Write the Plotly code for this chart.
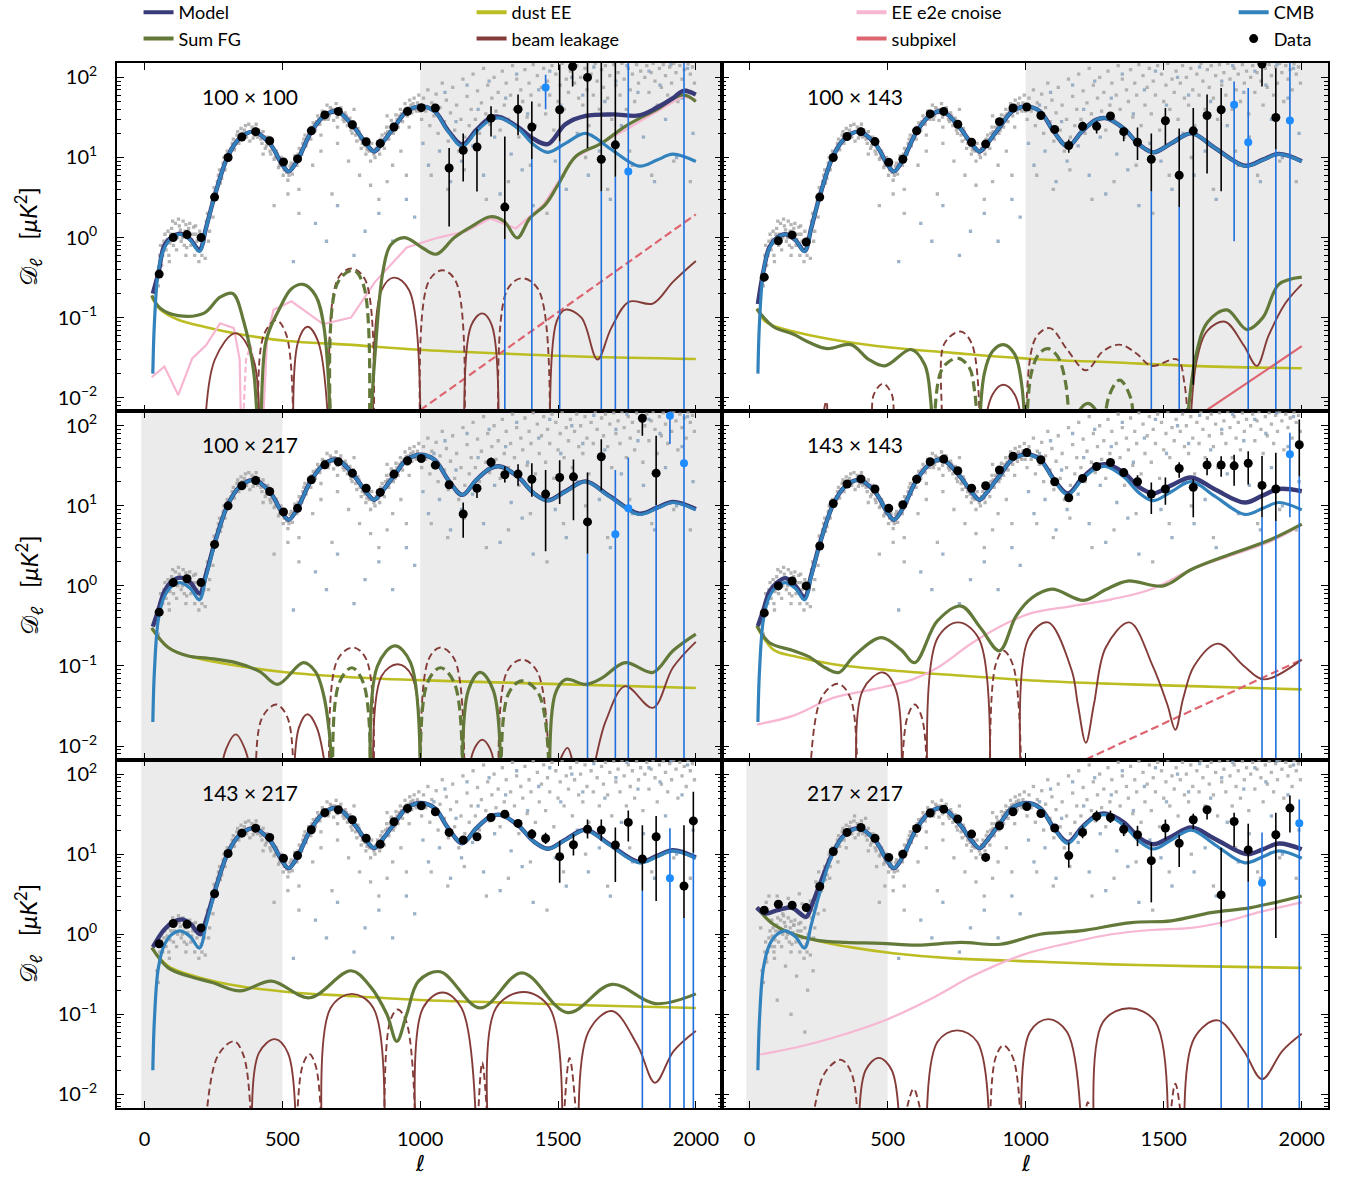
import plotly.graph_objects as go

# ---------------- data ----------------
LABELS = ["100 \u00d7 100", "100 \u00d7 143", "100 \u00d7 217",
          "143 \u00d7 143", "143 \u00d7 217", "217 \u00d7 217"]

# CMB EE theory (same in all panels): (ell, D_ell)
CMB = [(30, 0.02), (36, 0.09), (50, 0.38), (72, 0.74), (100, 1.0), (130, 1.1), (166, 0.93),
       (199, 0.67), (223, 1.3), (252, 3.1), (302, 10.3), (346, 17.5), (396, 21), (454, 15),
       (500, 8.1), (523, 6.7), (555, 9.3), (605, 21), (656, 34), (699, 37.6), (757, 24.5),
       (807, 14.4), (833, 11.9), (857, 14.4), (908, 24.5), (951, 37.6), (1001, 43.5),
       (1052, 37.6), (1102, 21), (1153, 13.7), (1203, 21), (1255, 29.5), (1290, 31), (1355, 23),
       (1412, 14.4), (1463, 11.6), (1527, 15), (1600, 20), (1686, 13.1), (1794, 7.8),
       (1859, 9.3), (1917, 11), (2000, 8.9)]

MODEL_1 = [(30, 0.2), (50, 0.36), (72, 0.8), (100, 1.02), (130, 1.12), (166, 0.95), (199, 0.7),
           (223, 1.32), (252, 3.1), (302, 10.3), (346, 17.5), (396, 21), (454, 15), (500, 8.1),
           (523, 6.7), (555, 9.3), (605, 21), (656, 34), (699, 37.6), (757, 24.5), (807, 14.4),
           (833, 11.9), (857, 14.4), (908, 24.5), (951, 37.6), (1001, 43.5), (1052, 38),
           (1102, 21.5), (1153, 14.5), (1203, 22), (1255, 31.6), (1290, 32), (1355, 24),
           (1412, 17), (1463, 14.7), (1527, 26), (1600, 33), (1700, 34.5), (1794, 33.5),
           (1859, 42), (1917, 55), (1955, 68), (2000, 61)]
MODEL_2 = [(30, 0.148), (50, 0.38), (72, 0.76), (100, 1.0), (130, 1.1), (166, 0.93), (199, 0.68),
           (223, 1.3), (252, 3.1), (302, 10.3), (346, 17.5), (396, 21), (454, 15), (500, 8.1),
           (523, 6.7), (555, 9.3), (605, 21), (656, 34), (699, 37.6), (757, 24.5), (807, 14.4),
           (833, 11.9), (857, 14.4), (908, 24.5), (951, 37.6), (1001, 43.5), (1052, 37.6),
           (1102, 21), (1153, 13.7), (1203, 21), (1255, 29.5), (1290, 31), (1355, 23),
           (1412, 14.4), (1463, 11.6), (1527, 15), (1600, 20), (1686, 13.1), (1794, 7.9),
           (1859, 9.4), (1917, 11.1), (2000, 9.0)]
MODEL_3 = [(30, 0.31), (50, 0.5), (72, 0.85), (100, 1.15), (130, 1.27), (166, 1.1), (199, 0.8),
           (223, 1.4), (252, 3.2), (302, 10.3), (346, 17.5), (396, 21), (454, 15), (500, 8.1),
           (523, 6.7), (555, 9.3), (605, 21), (656, 34), (699, 37.6), (757, 24.5), (807, 14.4),
           (833, 11.9), (857, 14.4), (908, 24.5), (951, 37.6), (1001, 43.5), (1052, 37.6),
           (1102, 21), (1153, 13.7), (1203, 21), (1255, 29.5), (1290, 31), (1355, 23),
           (1412, 14.4), (1463, 11.7), (1527, 15.2), (1600, 20.2), (1686, 13.3), (1794, 8.0),
           (1859, 9.5), (1917, 11.2), (2000, 9.1)]
MODEL_4 = [(30, 0.316), (50, 0.5), (72, 0.85), (100, 1.1), (130, 1.25), (166, 1.0), (199, 0.72),
           (223, 1.35), (252, 3.15), (302, 10.3), (346, 17.5), (396, 21), (454, 15), (500, 8.1),
           (523, 6.7), (555, 9.3), (605, 21), (656, 34), (699, 37.6), (757, 24.5), (807, 14.4),
           (833, 11.9), (857, 14.4), (908, 24.5), (951, 37.6), (1001, 44), (1052, 38),
           (1102, 21.5), (1153, 14.3), (1203, 22), (1255, 31), (1290, 33), (1355, 26),
           (1412, 17), (1463, 14.3), (1527, 18), (1600, 22.6), (1686, 16), (1794, 11),
           (1859, 13.5), (1917, 16.2), (2000, 15.2)]
MODEL_5 = [(30, 0.69), (50, 0.9), (72, 1.15), (101, 1.4), (137, 1.53), (166, 1.35), (202, 1.0),
           (223, 1.5), (252, 3.2), (302, 10.3), (346, 17.5), (396, 21), (454, 15), (500, 8.1),
           (523, 6.7), (555, 9.3), (605, 21), (656, 34), (699, 37.6), (757, 24.5), (807, 14.4),
           (833, 11.9), (857, 14.4), (908, 24.5), (951, 37.6), (1001, 43.5), (1052, 37.6),
           (1102, 21), (1153, 13.7), (1203, 21), (1255, 29.5), (1290, 31), (1355, 23),
           (1412, 14.4), (1463, 11.7), (1527, 15.2), (1600, 20.2), (1686, 13.3), (1794, 8.0),
           (1859, 9.5), (1917, 11.2), (2000, 9.1)]
MODEL_6 = [(26, 2.15), (58, 1.81), (101, 2.0), (151, 2.15), (205, 1.65), (223, 2.2), (252, 4.0),
           (302, 10.5), (346, 17.8), (396, 21), (454, 15), (500, 8.1), (523, 6.7), (555, 9.3),
           (605, 21), (656, 34), (699, 37.6), (757, 24.5), (807, 14.4), (833, 11.9), (857, 14.4),
           (908, 24.5), (951, 37.6), (1001, 43.5), (1052, 37.8), (1102, 21.3), (1153, 14.2),
           (1203, 21.5), (1255, 30.5), (1290, 32), (1355, 25), (1412, 16), (1463, 13.3),
           (1527, 16.5), (1600, 21.5), (1686, 15.5), (1801, 10), (1859, 11.5), (1917, 13.6),
           (2000, 11.5)]

# Sum of foregrounds, signed (negative -> dashed); 0 marks a sign change
SUMFG_1 = [(26, 0.19), (58, 0.13), (122, 0.106), (216, 0.114), (274, 0.18), (320, 0.2),
           (360, 0.089), (396, 0.021), (418, 0), (440, 0.05), (490, 0.13), (533, 0.23),
           (576, 0.26), (620, 0.19), (650, 0.08), (678, 0), (700, -0.27), (757, -0.39),
           (795, -0.25), (814, 0), (836, 0.034), (865, 0.38), (893, 0.81), (944, 1.0),
           (1009, 0.74), (1059, 0.62), (1124, 1.0), (1190, 1.4), (1254, 1.82), (1304, 1.6),
           (1352, 0.99), (1398, 1.75), (1455, 2.6), (1499, 4.5), (1564, 10.3), (1657, 15),
           (1744, 24.5), (1859, 40), (1953, 60.6), (2000, 50)]
SUMFG_2 = [(26, 0.128), (86, 0.077), (159, 0.062), (216, 0.049), (281, 0.041), (367, 0.046),
           (432, 0.03), (490, 0.025), (584, 0.04), (634, 0.026), (655, 0.01), (665, 0),
           (690, -0.02), (720, -0.028), (757, -0.031), (795, -0.024), (815, -0.012), (830, 0),
           (850, 0.02), (880, 0.038), (919, 0.046), (960, 0.035), (985, 0.015), (1001, 0),
           (1020, -0.02), (1050, -0.036), (1081, -0.041), (1115, -0.033), (1145, -0.015),
           (1160, 0), (1185, 0.006), (1225, 0.0085), (1265, 0.006), (1283, 0),
           (1300, -0.01), (1340, -0.0166), (1380, -0.01), (1405, 0), (1480, -0.004), (1575, 0),
           (1617, 0.034), (1660, 0.089), (1729, 0.125), (1801, 0.071), (1859, 0.1),
           (1917, 0.26), (2000, 0.32)]
SUMFG_3 = [(26, 0.30), (86, 0.17), (159, 0.133), (231, 0.125), (331, 0.11), (418, 0.085),
           (483, 0.059), (576, 0.11), (620, 0.085), (648, 0.046), (670, 0.015), (684, 0),
           (705, -0.06), (752, -0.095), (795, -0.06), (821, 0), (845, 0.1), (908, 0.178),
           (965, 0.11), (1001, 0), (1025, -0.06), (1073, -0.095), (1125, -0.06), (1153, 0),
           (1175, 0.05), (1218, 0.083), (1265, 0.05), (1294, 0), (1320, -0.045),
           (1369, -0.065), (1430, -0.045), (1470, 0), (1490, 0.045), (1527, 0.068),
           (1600, 0.059), (1657, 0.07), (1744, 0.11), (1844, 0.083), (1917, 0.155), (2000, 0.25)]
SUMFG_4 = [(26, 0.32), (72, 0.195), (159, 0.155), (216, 0.13), (274, 0.095), (324, 0.083),
           (375, 0.13), (476, 0.226), (548, 0.16), (598, 0.11), (680, 0.365), (766, 0.56),
           (836, 0.3), (905, 0.155), (965, 0.42), (1023, 0.71), (1095, 0.91), (1210, 0.66),
           (1290, 0.9), (1369, 1.15), (1499, 1.0), (1600, 1.6), (1744, 2.5), (1888, 3.8), (2000, 5.9)]
SUMFG_5 = [(26, 0.68), (86, 0.38), (159, 0.3), (245, 0.25), (346, 0.196), (461, 0.26),
           (598, 0.161), (749, 0.35), (820, 0.22), (879, 0.1), (915, 0.046), (951, 0.1),
           (994, 0.26), (1073, 0.34), (1218, 0.12), (1369, 0.33), (1535, 0.105), (1696, 0.237),
           (1852, 0.136), (2000, 0.18)]
SUMFG_6 = [(26, 2.15), (86, 1.33), (159, 1.0), (245, 0.84), (346, 0.79), (476, 0.77),
           (605, 0.73), (764, 0.79), (908, 0.75), (1052, 1.0), (1196, 1.1), (1383, 1.4),
           (1527, 1.47), (1672, 1.86), (1816, 2.15), (2000, 3.0)]

DUST_1 = [(26, 0.18), (58, 0.125), (122, 0.094), (216, 0.077), (346, 0.062), (519, 0.051),
          (735, 0.046), (994, 0.0398), (1311, 0.0355), (1600, 0.0325), (2000, 0.0305)]
DUST_2 = [(26, 0.13), (58, 0.089), (159, 0.067), (303, 0.053), (519, 0.042), (735, 0.0363),
          (1023, 0.0305), (1311, 0.0277), (1600, 0.025), (2000, 0.0233)]
DUST_3 = [(26, 0.29), (86, 0.17), (159, 0.133), (303, 0.105), (519, 0.083), (735, 0.073),
          (1023, 0.066), (1311, 0.062), (1600, 0.058), (2000, 0.053)]
DUST_4 = [(26, 0.31), (86, 0.16), (159, 0.133), (303, 0.105), (519, 0.088), (735, 0.077),
          (1023, 0.066), (1311, 0.06), (1600, 0.056), (2000, 0.051)]
DUST_5 = [(26, 0.68), (86, 0.4), (159, 0.316), (303, 0.237), (519, 0.19), (735, 0.17),
          (1023, 0.15), (1311, 0.14), (1600, 0.13), (2000, 0.12)]
DUST_6 = [(26, 2.15), (86, 1.33), (159, 1.0), (245, 0.83), (375, 0.68), (519, 0.58),
          (735, 0.5), (1023, 0.458), (1311, 0.42), (1600, 0.4), (2000, 0.38)]

# beam leakage, signed
BEAM_1 = [(215, 0), (255, 0.03), (331, 0.064), (395, 0.03), (415, 0), (432, -0.06), (478, -0.093),
          (515, -0.06), (540, 0), (557, 0.05), (591, 0.077), (630, 0.05), (672, 0), (700, -0.3),
          (750, -0.41), (800, -0.3), (830, 0), (860, 0.22), (905, 0.316), (960, 0.22), (1001, 0),
          (1030, -0.28), (1081, -0.39), (1130, -0.28), (1160, 0), (1185, 0.08), (1225, 0.113),
          (1260, 0.08), (1285, 0), (1315, -0.22), (1369, -0.31), (1430, -0.22), (1470, 0),
          (1495, 0.09), (1527, 0.126), (1585, 0.1), (1643, 0.03), (1693, 0.074), (1758, 0.158),
          (1844, 0.15), (1917, 0.28), (2000, 0.51)]
BEAM_2 = [(252, 0), (278, -0.009), (303, 0), (425, 0), (450, -0.011), (483, -0.015), (515, -0.011),
          (540, 0), (672, 0), (705, -0.047), (764, -0.067), (805, -0.047), (835, 0), (880, 0.011),
          (919, 0.0145), (960, 0.011), (1001, 0), (1035, -0.055), (1088, -0.074), (1150, -0.04),
          (1218, -0.022), (1280, -0.038), (1340, -0.046), (1400, -0.036), (1455, -0.025),
          (1549, -0.03), (1575, -0.015), (1592, 0), (1620, 0.03), (1660, 0.07), (1722, 0.089),
          (1790, 0.045), (1837, 0.025), (1880, 0.06), (1940, 0.15), (2000, 0.26)]
BEAM_3 = [(260, 0), (295, 0.009), (331, 0.014), (365, 0.009), (405, 0), (425, -0.022),
          (478, -0.033), (520, -0.022), (540, 0), (560, 0.017), (591, 0.025), (625, 0.017),
          (672, 0), (700, -0.12), (757, -0.17), (805, -0.12), (830, 0), (860, 0.075),
          (919, 0.105), (970, 0.075), (1001, 0), (1030, -0.12), (1073, -0.17), (1125, -0.12),
          (1160, 0), (1195, 0.009), (1225, 0.012), (1255, 0.009), (1285, 0), (1315, -0.085),
          (1369, -0.12), (1425, -0.085), (1470, 0), (1510, 0.007), (1535, 0.0095), (1590, 0),
          (1672, 0.02), (1744, 0.056), (1844, 0.03), (1917, 0.0955), (2000, 0.2)]
BEAM_4 = [(215, 0), (260, -0.04), (320, -0.06), (365, -0.04), (390, 0), (410, 0.05), (483, 0.083),
          (530, 0.05), (550, 0), (570, -0.022), (598, -0.033), (625, -0.022), (645, 0),
          (680, 0.22), (755, 0.35), (830, 0.22), (870, 0), (890, -0.1), (919, -0.155),
          (955, -0.1), (985, 0), (1010, 0.22), (1081, 0.35), (1167, 0.087), (1189, 0.033),
          (1218, 0.011), (1247, 0.033), (1290, 0.17), (1376, 0.35), (1460, 0.1), (1513, 0.033),
          (1542, 0.016), (1571, 0.04), (1610, 0.1), (1696, 0.19), (1790, 0.1), (1862, 0.068),
          (2000, 0.12)]
BEAM_5 = [(215, 0), (265, -0.03), (324, -0.046), (360, -0.03), (390, 0), (415, 0.033),
          (473, 0.049), (520, 0.033), (550, 0), (572, -0.022), (598, -0.032), (622, -0.022),
          (645, 0), (675, 0.12), (752, 0.18), (830, 0.12), (870, 0), (890, -0.08), (918, -0.115),
          (950, -0.08), (985, 0), (1010, 0.12), (1081, 0.187), (1150, 0.12), (1205, 0),
          (1225, -0.025), (1250, 0), (1275, 0.12), (1376, 0.19), (1470, 0.12), (1515, 0),
          (1542, -0.0285), (1575, 0), (1610, 0.06), (1696, 0.11), (1790, 0.04), (1852, 0.014),
          (1920, 0.035), (2000, 0.062)]
BEAM_6 = [(215, 0), (270, -0.018), (331, -0.027), (370, -0.018), (395, 0), (420, 0.02),
          (468, 0.0286), (515, 0.02), (545, 0), (575, -0.008), (594, -0.0118), (612, -0.008),
          (640, 0), (680, 0.045), (752, 0.063), (825, 0.045), (870, 0), (890, -0.028),
          (919, -0.041), (955, -0.028), (985, 0), (1015, 0.06), (1081, 0.087), (1150, 0.06),
          (1205, 0), (1225, -0.008), (1250, 0), (1280, 0.08), (1376, 0.119), (1470, 0.08),
          (1515, 0), (1542, -0.0136), (1575, 0), (1610, 0.05), (1696, 0.084), (1790, 0.035),
          (1856, 0.0155), (1930, 0.035), (2000, 0.057)]

# EE e2e correlated noise (only visible in three panels)
PINK_1 = [(26, 0.018), (72, 0.0245), (122, 0.0108), (173, 0.031), (223, 0.045), (274, 0.085),
          (324, 0.074), (345, 0.03), (352, 0), (368, -0.03), (385, -0.045), (405, -0.02),
          (425, 0), (445, 0.06), (468, 0.125), (533, 0.16), (648, 0.083), (749, 0.1), (836, 0.28),
          (951, 0.75), (1066, 1.0), (1167, 1.2), (1254, 1.73), (1347, 1.3), (1448, 2.6),
          (1556, 9.8), (1744, 22), (1953, 58), (2000, 53)]
PINK_4 = [(26, 0.0186), (159, 0.024), (302, 0.04), (447, 0.051), (591, 0.068), (680, 0.095),
          (807, 0.195), (922, 0.33), (1023, 0.46), (1167, 0.56), (1311, 0.68), (1455, 0.91),
          (1600, 1.6), (1744, 2.4), (1888, 3.6), (2000, 5.8)]
PINK_6 = [(26, 0.031), (159, 0.038), (302, 0.051), (500, 0.087), (663, 0.16), (807, 0.3),
          (994, 0.56), (1167, 0.79), (1311, 1.0), (1455, 1.13), (1600, 1.2), (1710, 1.4),
          (1850, 1.9), (2000, 2.5)]

# subpixel (signed: negative -> dashed)
SUBPIX_1 = [(1000, -0.007), (2000, -1.95)]
SUBPIX_2 = [(1600, 0.0052), (2000, 0.044)]
SUBPIX_4 = [(1218, -0.0068), (2000, -0.12)]

# binned data: (ell, |D|, lower, upper, negative)   lower = 0 -> bar runs off the bottom
DATA_1 = [(53, 0.35), (104, 1.0), (154, 1.09), (205, 1.0), (254, 3.2), (303, 10), (353, 18),
          (403, 21), (454, 16.2), (504, 8.8), (555, 9.6), (605, 21.5), (654, 34), (703, 37.6),
          (754, 25.6), (804, 15.7), (855, 15), (905, 24), (954, 37.6), (1004, 41.9), (1055, 41.5),
          (1105, 7.4, 1.37, 13.1), (1156, 12.3, 5.0, 20), (1206, 13.5, 3.76, 22.8),
          (1257, 31, 18.3, 43.5), (1307, 2.4, 0, 18.3), (1355, 40, 19, 61), (1405, 24, 0, 50),
          (1455, 75, 40, 108, 1), (1506, 39.5, 0, 145), (1553, 137, 77, 200), (1607, 100, 13, 200),
          (1657, 9.5, 0, 200), (1708, 14.4, 0, 200), (1755, 6.7, 0, 200, 1), (1957, 0.005, 0, 200, 1)]
DATA_2 = [(53, 0.32), (104, 0.91), (154, 1.08), (205, 0.88), (254, 3.2), (303, 10), (353, 18.3),
          (403, 21), (454, 15.8), (504, 8.7), (555, 9.5), (605, 21.5), (654, 35), (703, 37.6),
          (754, 26), (804, 15.5), (855, 14.7), (905, 28), (954, 41.5), (1004, 42.7), (1055, 33.5),
          (1105, 22.4), (1156, 14.1, 11.5, 16.8), (1206, 24.5, 21.5, 28), (1257, 24.5, 20, 28.8),
          (1307, 33, 29, 36.5), (1355, 21, 16, 23.7), (1405, 15.5, 9.3, 23.7), (1455, 9.5, 0, 20),
          (1506, 28.8, 14.4, 41.5), (1556, 6.0, 0, 23), (1607, 21.5, 0.0145, 41.4),
          (1657, 33.5, 6.3, 61), (1708, 39.5, 3.8, 73.5), (1755, 45.5, 0.9, 89, 1),
          (1806, 15.5, 0, 73.5, 1), (1856, 147, 77, 300), (1906, 31.6, 0, 130), (1957, 29, 0, 200, 1)]
DATA_3 = [(53, 0.47), (104, 1.1), (154, 1.23), (205, 1.1), (254, 3.3), (303, 10), (353, 17.8),
          (403, 20.7), (454, 15.1), (504, 8.4), (555, 9.3), (605, 21.1), (654, 32.5), (703, 35.5),
          (754, 25.6), (804, 16.6), (855, 14.7), (905, 24.9), (954, 36.5), (1004, 39), (1055, 32.2),
          (1105, 18.3), (1156, 7.9, 4.0, 11), (1206, 16.6, 12.5, 18.7), (1257, 35, 30, 40),
          (1307, 24.4, 19.5, 31), (1355, 24.9, 17.8, 33), (1405, 21.5, 13, 34), (1455, 14, 2.7, 28),
          (1506, 22.6, 10.5, 37), (1556, 23, 6.6, 38), (1607, 6.3, 0, 26), (1657, 41, 15.5, 68),
          (1708, 4.4, 0, 28, 1), (1755, 9.3, 0, 40, 1), (1806, 124, 75, 140), (1856, 25.6, 0, 75),
          (1906, 133, 59, 140, 1), (1957, 34, 0, 140, 1)]
DATA_4 = [(53, 0.46), (104, 1.0), (154, 1.15), (205, 1.0), (254, 3.15), (303, 10.7), (353, 18.7),
          (403, 21.7), (454, 16.2), (504, 9.3), (555, 10.3), (605, 21.5), (654, 35.5), (703, 38.3),
          (754, 27.4), (804, 16.6), (855, 17.8), (905, 28), (954, 41.5), (1004, 46.4),
          (1055, 37.6), (1105, 20), (1156, 12.6), (1206, 22), (1257, 31), (1307, 34.8), (1355, 26),
          (1405, 20, 17.8, 24), (1455, 14, 7.9, 19.6), (1506, 16.2, 10.3, 22.6),
          (1556, 29.3, 22.4, 35), (1607, 17, 7.2, 21.5), (1657, 32.3, 24, 39.5),
          (1708, 32.3, 23, 41.5), (1755, 31.6, 17.8, 43.5), (1806, 34, 18.5, 48), (1856, 18, 0, 42),
          (1906, 16.2, 0, 46), (1957, 44, 7.2, 82, 1), (1991, 58, 0, 120)]
DATA_5 = [(53, 0.76), (104, 1.36), (154, 1.33), (205, 1.2), (254, 3.2), (303, 10.2), (353, 18.3),
          (403, 21.1), (454, 16.2), (504, 8.9), (555, 9.6), (605, 20.2), (654, 33), (703, 35.9),
          (754, 26.9), (804, 15.8), (855, 13.3), (905, 25.4), (954, 37.3), (1004, 40.2),
          (1055, 33.8), (1105, 18.7), (1156, 15), (1206, 16.5), (1257, 28.7), (1307, 31.6),
          (1355, 24.2), (1405, 17.8, 15.4, 20.5), (1455, 15.7, 13.4, 18.5), (1506, 9.3, 4.4, 14.7),
          (1556, 13.1, 9.6, 17.8), (1607, 20.5, 15.7, 27), (1657, 20, 14.7, 27),
          (1708, 13, 4.5, 21.5), (1755, 24.9, 14.4, 35), (1806, 8.7, 0, 23), (1856, 16.5, 2.6, 30),
          (1906, 5.0, 0, 21, 1), (1957, 4.0, 0, 23), (1991, 26, 0, 60)]
DATA_6 = [(53, 2.0), (104, 2.37), (154, 2.3), (205, 2.15), (254, 3.95), (303, 10.8), (353, 18.7),
          (403, 21.5), (454, 15.8), (504, 9.1), (555, 10), (605, 20.9), (654, 32.6), (703, 36.5),
          (754, 27.4), (804, 17.8), (855, 9.1), (905, 22.6), (954, 33.8), (1004, 39.3),
          (1055, 32.2), (1105, 21.2), (1156, 9.6, 6.8, 14), (1206, 18.7, 15.8, 22.6),
          (1257, 29.6, 25.5, 35), (1307, 28.7, 24.5, 35), (1355, 20.5, 16.8, 24.5),
          (1405, 17.5, 12.6, 22.6), (1455, 8.3, 2.5, 14), (1506, 21.2, 15.3, 27),
          (1556, 13.7, 6.9, 17.5), (1607, 26.9, 20.5, 32), (1657, 35.9, 27, 40), (1708, 3.1, 0, 12),
          (1755, 25.6, 12.3, 33), (1806, 11.3, 0, 24), (1856, 4.4, 0, 18.7, 1),
          (1906, 17.5, 0.9, 33), (1957, 37.6, 18.7, 54), (1991, 24.3, 0, 48, 1)]

# unbinned spectrum (grey cloud), read approximately
SCAT_LOW = [(45, 0.35), (55, 0.6), (62, 0.45), (70, 0.9), (78, 0.7), (85, 1.2), (92, 0.85), (98, 1.3),
            (105, 0.8), (112, 1.5), (120, 1.0), (126, 1.4), (133, 0.9), (140, 1.6), (147, 1.2),
            (153, 0.75), (160, 1.3), (168, 0.8), (175, 1.1), (182, 0.6), (190, 0.9), (197, 0.5),
            (205, 0.75), (212, 1.0), (220, 0.55), (228, 2.0), (236, 1.2), (245, 2.8), (252, 4.2),
            (260, 3.5), (268, 6.0), (275, 4.8), (285, 8.5), (292, 7.0), (300, 12), (310, 10),
            (318, 15), (326, 12.5), (335, 19), (342, 15), (350, 23), (358, 18), (366, 25), (374, 20),
            (382, 16), (390, 24), (398, 19), (405, 26), (414, 22), (422, 17), (430, 21), (438, 13),
            (446, 18), (455, 12), (462, 15), (470, 9.5), (478, 12), (486, 7.5), (495, 10), (503, 6),
            (512, 8), (520, 5.2), (528, 7.8), (536, 6.2), (545, 10.5), (553, 8), (561, 13), (570, 11),
            (578, 17), (586, 14), (595, 22), (603, 17), (612, 27), (620, 22), (628, 33), (636, 26),
            (645, 38), (653, 30), (662, 45), (670, 33), (678, 40), (686, 29), (695, 47), (703, 35),
            (712, 42), (720, 30), (728, 36), (736, 25), (745, 31), (753, 20), (762, 26), (770, 16),
            (778, 21), (786, 13), (795, 17), (803, 11), (812, 14.5), (820, 9), (828, 12), (836, 10),
            (845, 15), (853, 11), (862, 19), (870, 13), (878, 24), (886, 17), (895, 29), (903, 20),
            (912, 34), (920, 24), (928, 40), (936, 28), (945, 47), (953, 33), (962, 52), (970, 36),
            (978, 55), (986, 38), (995, 60), (520, 3.5), (560, 4), (610, 8), (640, 12), (700, 15),
            (740, 9), (780, 6), (820, 4.5), (850, 3), (880, 5), (900, 8), (930, 12), (950, 6),
            (560, 2.0), (680, 3.5), (470, 2.5), (90, 0.5), (150, 0.6), (185, 1.4), (430, 11),
            (700, 24), (760, 40), (880, 33), (960, 24), (640, 19)]
SCAT_BAND = [(50, 0.25), (58, 0.8), (66, 0.6), (74, 1.1), (82, 0.95), (88, 0.6), (95, 1.1), (102, 1.6),
             (108, 1.1), (116, 0.7), (123, 1.7), (130, 1.25), (137, 1.0), (144, 0.8), (150, 1.45),
             (157, 1.05), (164, 1.5), (171, 0.95), (178, 1.35), (186, 1.1), (193, 0.7), (200, 1.2),
             (208, 0.6), (216, 0.9), (224, 1.6), (232, 0.9), (240, 2.2), (248, 1.8), (256, 3.8),
             (264, 5), (272, 7), (280, 5.5), (288, 10), (296, 9), (305, 11), (314, 13), (322, 17),
             (330, 15), (338, 21), (346, 17), (354, 20), (362, 22), (370, 18), (378, 26), (386, 21),
             (394, 17.5), (402, 23), (410, 18), (418, 20), (426, 15), (434, 18), (442, 14), (450, 17),
             (458, 11), (466, 13), (474, 10), (482, 11), (490, 8), (498, 8.5), (507, 7), (516, 6.5),
             (524, 6), (532, 8.5), (540, 8), (549, 9), (557, 11), (566, 12), (574, 15), (582, 19),
             (590, 17), (599, 20), (607, 24), (616, 21), (624, 28), (632, 30), (641, 31), (649, 36),
             (658, 36), (666, 30), (674, 42), (682, 36), (690, 40), (699, 32), (708, 38), (716, 34),
             (724, 28), (732, 33), (741, 27), (749, 22), (757, 28), (766, 19), (774, 23), (782, 17),
             (790, 15), (799, 14), (807, 12.5), (816, 12), (824, 15), (832, 11), (840, 13),
             (849, 12.5), (857, 17), (866, 15), (874, 20), (882, 21), (891, 24), (899, 26), (908, 22),
             (916, 30), (924, 33), (932, 35), (941, 38), (949, 41), (957, 42), (966, 45), (974, 47),
             (982, 40), (990, 48), (998, 38)]
SCAT_HIGH = [(1005, 30), (1012, 55), (1020, 38), (1028, 70), (1035, 25), (1042, 48), (1050, 33),
             (1058, 62), (1065, 20), (1072, 42), (1080, 85), (1088, 28), (1095, 52), (1102, 16),
             (1110, 36), (1118, 75), (1125, 22), (1132, 45), (1140, 12), (1148, 30), (1155, 95),
             (1162, 18), (1170, 58), (1178, 25), (1185, 40), (1192, 110), (1200, 30), (1208, 68),
             (1215, 20), (1222, 48), (1230, 130), (1238, 35), (1245, 80), (1252, 26), (1260, 55),
             (1268, 100), (1275, 38), (1283, 65), (1290, 22), (1298, 120), (1305, 45), (1312, 85),
             (1320, 30), (1328, 60), (1335, 140), (1342, 40), (1350, 95), (1358, 18), (1365, 70),
             (1372, 50), (1380, 125), (1388, 32), (1395, 85), (1402, 60), (1410, 145), (1418, 25),
             (1425, 105), (1432, 45), (1440, 75), (1448, 130), (1455, 35), (1462, 90), (1470, 60),
             (1478, 140), (1485, 22), (1492, 110), (1500, 50), (1508, 80), (1515, 150), (1522, 40),
             (1530, 95), (1538, 65), (1545, 120), (1552, 30), (1560, 85), (1568, 140), (1575, 55),
             (1582, 100), (1590, 45), (1598, 130), (1605, 70), (1612, 25), (1620, 110), (1628, 60),
             (1635, 150), (1642, 90), (1650, 40), (1658, 125), (1665, 75), (1672, 140), (1680, 55),
             (1688, 105), (1695, 30), (1702, 145), (1710, 80), (1718, 115), (1725, 60), (1732, 150),
             (1740, 95), (1748, 40), (1755, 130), (1762, 70), (1770, 110), (1778, 50), (1785, 145),
             (1792, 85), (1800, 120), (1808, 35), (1815, 100), (1822, 140), (1830, 65), (1838, 115),
             (1845, 150), (1852, 90), (1860, 45), (1868, 130), (1875, 75), (1882, 145), (1890, 105),
             (1898, 60), (1905, 135), (1912, 85), (1920, 150), (1928, 115), (1935, 50), (1942, 140),
             (1950, 95), (1958, 125), (1965, 70), (1972, 148), (1980, 110), (1988, 135), (1995, 85),
             (1040, 6), (1100, 4), (1160, 7), (1240, 3), (1320, 5), (1400, 8), (1460, 2), (1520, 6),
             (1600, 10), (1680, 4), (1760, 12), (1840, 6), (1920, 9), (1980, 5)]
SCAT_BLUE = [(1010, 15), (1030, 8), (1050, 45), (1070, 12), (1090, 65), (1110, 5), (1130, 28),
             (1150, 9), (1170, 80), (1190, 14), (1210, 40), (1230, 6), (1250, 90), (1270, 18),
             (1290, 3.5), (1310, 55), (1330, 11), (1350, 110), (1370, 7), (1390, 35), (1410, 2.5),
             (1430, 70), (1450, 15), (1470, 120), (1490, 9), (1510, 45), (1530, 4), (1550, 100),
             (1570, 20), (1590, 60), (1610, 6), (1630, 135), (1650, 12), (1670, 50), (1690, 3),
             (1710, 90), (1730, 25), (1750, 140), (1770, 8), (1790, 65), (1810, 18), (1830, 120),
             (1850, 5), (1870, 80), (1890, 30), (1910, 145), (1930, 10), (1950, 55), (1970, 130),
             (1990, 20), (620, 1.5), (700, 2.5), (760, 0.6), (800, 1.2), (850, 2), (900, 0.9),
             (950, 3), (980, 1.8), (540, 0.5), (660, 0.9)]
SCAT_EXTRA_6 = [(40, 1.2), (60, 2.5), (80, 1.5), (100, 3), (120, 1.8), (140, 2.8), (160, 1.3),
                (180, 3.2), (200, 1.6), (220, 2.6), (240, 4.5), (60, 0.5), (90, 0.7), (130, 0.4),
                (170, 0.3), (210, 0.2), (150, 0.1), (250, 6), (270, 2), (290, 5), (320, 8),
                (350, 12), (380, 30), (420, 28), (460, 7), (490, 4), (100, 0.15), (200, 0.06),
                (230, 0.35), (70, 3.0), (110, 2.2), (190, 2.4)]

SHADE = [[(1000, 2100)], [(1000, 2100)], [(-12, 500), (1000, 2100)], [], [(-12, 500)], [(-12, 500)]]

MODELS = [MODEL_1, MODEL_2, MODEL_3, MODEL_4, MODEL_5, MODEL_6]
SUMFGS = [SUMFG_1, SUMFG_2, SUMFG_3, SUMFG_4, SUMFG_5, SUMFG_6]
DUSTS = [DUST_1, DUST_2, DUST_3, DUST_4, DUST_5, DUST_6]
BEAMS = [BEAM_1, BEAM_2, BEAM_3, BEAM_4, BEAM_5, BEAM_6]
PINKS = [PINK_1, None, None, PINK_4, None, PINK_6]
SUBPIXS = [SUBPIX_1, SUBPIX_2, None, SUBPIX_4, None, None]
DATAS = [DATA_1, DATA_2, DATA_3, DATA_4, DATA_5, DATA_6]

# ---------------- styling ----------------
C_MODEL = "#393b79"
C_CMB = "#3182bd"
C_FG = "#637939"
C_DUST = "#bcbd22"
C_BEAM = "#843c39"
C_PINK = "#f7b6d2"
C_SUB = "#de6570"
C_BLUE_LINE = "#1f6fdc"
C_BLUE_DOT = "#1e8cff"
FONT = "Lato, 'DejaVu Sans', sans-serif"
FLOOR = 2e-3           # where a sign change dives below the axis
YR = [-2.17, 2.18]
XR = [-100, 2095]
PLOT_H = 1045.0        # pixel height of the grid of panels
PLOT_W = 1211.0


def xy(pairs):
    return [p[0] for p in pairs], [p[1] for p in pairs]


def split_signed(pairs):
    xs, pos, neg = [], [], []
    for l, v in pairs:
        xs.append(l)
        if v > 0:
            pos.append(v); neg.append(None)
        elif v < 0:
            pos.append(None); neg.append(-v)
        else:
            pos.append(FLOOR); neg.append(FLOOR)
    return xs, pos, neg


fig = go.Figure()

for i in range(6):
    r, c = divmod(i, 2)
    sfx = "" if i == 0 else str(i + 1)
    xa, ya = "x" + sfx, "y" + sfx

    def add(**kw):
        fig.add_trace(go.Scatter(xaxis=xa, yaxis=ya, showlegend=False, hoverinfo="skip", **kw))

    # cloud of unbinned points
    cloud = SCAT_LOW + SCAT_BAND + SCAT_HIGH + (SCAT_EXTRA_6 if i == 5 else [])
    cx, cy = xy(cloud)
    add(x=cx, y=cy, mode="markers",
        marker=dict(symbol="square", size=3.3, color="#a3a3a3", opacity=0.8, line=dict(width=0)))
    bx, by = xy(SCAT_BLUE)
    add(x=bx, y=by, mode="markers",
        marker=dict(symbol="square", size=3.3, color="#8aa5bf", opacity=0.85, line=dict(width=0)))

    # dust
    dx, dy = xy(DUSTS[i])
    add(x=dx, y=dy, mode="lines", line=dict(color=C_DUST, width=2.6, shape="spline"))

    # correlated noise
    if PINKS[i] is not None:
        px_, pp, pn = split_signed(PINKS[i])
        shp = "linear" if i == 0 else "spline"
        add(x=px_, y=pp, mode="lines", line=dict(color=C_PINK, width=2.2, shape=shp))
        add(x=px_, y=pn, mode="lines", line=dict(color=C_PINK, width=2.2, shape=shp, dash="6px,3px"))

    # subpixel
    if SUBPIXS[i] is not None:
        sx, sp, sn = split_signed(SUBPIXS[i])
        add(x=sx, y=sp, mode="lines", line=dict(color=C_SUB, width=2.2))
        add(x=sx, y=sn, mode="lines", line=dict(color=C_SUB, width=2.2, dash="8px,4px"))

    # beam leakage
    bx2, bp, bn = split_signed(BEAMS[i])
    add(x=bx2, y=bp, mode="lines", line=dict(color=C_BEAM, width=1.9, shape="spline"))
    add(x=bx2, y=bn, mode="lines", line=dict(color=C_BEAM, width=1.9, shape="spline", dash="7px,4px"))

    # sum of foregrounds
    fx, fp, fn = split_signed(SUMFGS[i])
    add(x=fx, y=fp, mode="lines", line=dict(color=C_FG, width=3.2, shape="spline"))
    add(x=fx, y=fn, mode="lines", line=dict(color=C_FG, width=3.2, shape="spline", dash="10px,5px"))

    # model and CMB
    mx, my = xy(MODELS[i])
    add(x=mx, y=my, mode="lines", line=dict(color=C_MODEL, width=4.4, shape="spline"))
    kx, ky = xy(CMB)
    add(x=kx, y=ky, mode="lines", line=dict(color=C_CMB, width=3.2, shape="spline"))

    # error bars
    blk_x, blk_y, blu_x, blu_y = [], [], [], []
    dot_k, dot_b = [[], []], [[], []]
    for rec in DATAS[i]:
        l, d = rec[0], rec[1]
        neg = len(rec) > 4 and rec[4] == 1
        (dot_b if neg else dot_k)[0].append(l)
        (dot_b if neg else dot_k)[1].append(d)
        if len(rec) < 4:
            continue
        lo, hi = rec[2], rec[3]
        if neg:
            blu_x += [l, l, None]
            blu_y += [hi, lo if lo > 0 else FLOOR, None]
        elif lo > 0:
            blk_x += [l, l, None]
            blk_y += [hi, lo, None]
        else:
            split = d / 2.5
            blk_x += [l, l, None]
            blk_y += [hi, split, None]
            blu_x += [l, l, None]
            blu_y += [split, FLOOR, None]
    add(x=blu_x, y=blu_y, mode="lines", line=dict(color=C_BLUE_LINE, width=1.6))
    add(x=blk_x, y=blk_y, mode="lines", line=dict(color="black", width=1.6))
    add(x=dot_b[0], y=dot_b[1], mode="markers", marker=dict(color=C_BLUE_DOT, size=8))
    add(x=dot_k[0], y=dot_k[1], mode="markers", marker=dict(color="black", size=9))

    # shaded (excluded) ranges
    for a, b in SHADE[i]:
        fig.add_shape(type="rect", xref=xa, yref=ya + " domain", x0=a, x1=b, y0=0, y1=1,
                      fillcolor="#ebebeb", line=dict(width=0), layer="below")

    # panel label
    fig.add_annotation(text=LABELS[i], xref=xa + " domain", yref=ya + " domain",
                       x=0.137, y=0.905, xanchor="left", yanchor="middle", showarrow=False,
                       font=dict(size=21, color="black", family=FONT))

    xd = [0.0, 0.4996] if c == 0 else [0.4996, 1.0]
    yd = [2 / 3, 1.0] if r == 0 else ([1 / 3, 2 / 3] if r == 1 else [0.0, 1 / 3])
    xkey = "xaxis" + sfx
    ykey = "yaxis" + sfx
    fig.update_layout(**{
        xkey: dict(domain=xd, anchor=ya, range=XR, tickvals=[0, 500, 1000, 1500, 2000],
                   ticks="inside", ticklen=7, tickwidth=1.3, tickcolor="black",
                   showline=True, linewidth=1.6, linecolor="black", mirror="ticks",
                   showgrid=False, zeroline=False, showticklabels=(r == 2),
                   ticklabelstandoff=12,
                   tickfont=dict(size=20, color="black", family=FONT)),
        ykey: dict(domain=yd, anchor=xa, type="log", range=YR,
                   tickvals=[0.01, 0.1, 1, 10, 100],
                   ticktext=["10<sup>\u22122</sup>", "10<sup>\u22121</sup>", "10<sup>0</sup>",
                             "10<sup>1</sup>", "10<sup>2</sup>"],
                   ticks="inside", ticklen=7, tickwidth=1.3, tickcolor="black",
                   minor=dict(ticks="inside", ticklen=4, tickwidth=1, tickcolor="black",
                              tickvals=[k * 10 ** e for e in range(-3, 3) for k in range(2, 10)]),
                   showline=True, linewidth=1.6, linecolor="black", mirror="ticks",
                   showgrid=False, zeroline=False, showticklabels=(c == 0),
                   ticklabelstandoff=14,
                   tickfont=dict(size=20, color="black", family=FONT)),
    })

    # y-axis title (left column) and x-axis title (bottom row)
    if c == 0:
        fig.add_annotation(text="\U0001D49F<sub>\u2113</sub>   [<i>\u03bcK</i><sup>2</sup>]",
                           xref="paper", yref=ya + " domain", x=(28 - 117) / PLOT_W, y=0.5,
                           xanchor="center", yanchor="middle", textangle=-90, showarrow=False,
                           font=dict(size=24, color="black", family=FONT))
    if r == 2:
        fig.add_annotation(text="\u2113", xref=xa, yref="paper", x=1000,
                           y=-(1163 - 1108) / PLOT_H, xanchor="center", yanchor="middle",
                           showarrow=False,
                           font=dict(size=22, color="black", family="'DejaVu Sans', sans-serif"))

# legend entries (legend-only traces)
LEG = [("Model", C_MODEL, 4, "legend", "lines"), ("Sum FG", C_FG, 4, "legend", "lines"),
       ("dust EE", C_DUST, 4, "legend2", "lines"), ("beam leakage", C_BEAM, 4, "legend2", "lines"),
       ("EE e2e cnoise", C_PINK, 4, "legend3", "lines"), ("subpixel", C_SUB, 4, "legend3", "lines"),
       ("CMB", C_CMB, 4, "legend4", "lines"), ("Data", "black", 0, "legend4", "markers")]
for k, (name, col, w, lg, mode) in enumerate(LEG):
    if mode == "lines":
        fig.add_trace(go.Scatter(x=[None], y=[None], mode="lines", name=name, legend=lg,
                                 legendgroup=name, line=dict(color=col, width=w)))
    else:
        fig.add_trace(go.Scatter(x=[None], y=[None], mode="markers", name=name, legend=lg,
                                 legendgroup=name, marker=dict(color=col, size=9, symbol="circle")))

leg_common = dict(orientation="v", yanchor="top", xanchor="left", y=1 + 69 / PLOT_H,
                  bgcolor="rgba(0,0,0,0)", tracegroupgap=0,
                  font=dict(size=18, color="black", family=FONT))
fig.update_layout(
    width=1354, height=1178,
    margin=dict(l=117, r=26, t=63, b=70, autoexpand=False),
    paper_bgcolor="white", plot_bgcolor="white",
    font=dict(family=FONT, color="black"),
    legend=dict(x=0.0178, **leg_common),
    legend2=dict(x=0.2928, **leg_common),
    legend3=dict(x=0.6066, **leg_common),
    legend4=dict(x=0.9221, **leg_common),
)

# remove the browser's default 8 px page margin so the figure sits at the window origin
fig.write_html("out.html", config={"displayModeBar": False},
               post_script="document.body.style.margin='0px';")
